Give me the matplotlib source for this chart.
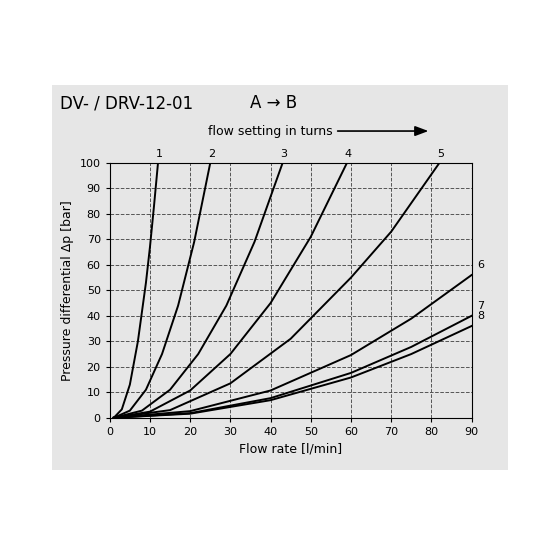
import matplotlib
matplotlib.use("Agg")
import matplotlib.pyplot as plt
from matplotlib.patches import Rectangle

# curve data (flow l/min, pressure bar)
curve_x = {
    "1": [1, 3, 5, 7, 9, 10, 11, 12],
    "2": [1, 5, 9, 13, 17, 21, 25],
    "3": [1, 8, 15, 22, 29, 36, 43],
    "4": [1, 10, 20, 30, 40, 50, 59],
    "5": [1, 15, 30, 45, 60, 70, 82],
    "6": [1, 20, 40, 60, 75, 90],
    "7": [1, 20, 40, 60, 75, 90],
    "8": [1, 20, 40, 60, 75, 90],
}
curve_y = {
    "1": [0, 3.3, 13, 30, 53, 67, 83, 100],
    "2": [0, 2.8, 11, 25, 44, 69, 100],
    "3": [0, 2.8, 11, 25, 44, 69, 100],
    "4": [0, 2.4, 10.7, 25, 45, 71, 100],
    "5": [0, 3, 13.5, 31, 55, 73, 100],
    "6": [0, 2.6, 10.7, 24.6, 38.9, 56],
    "7": [0, 1.8, 7.7, 17.6, 27.8, 40],
    "8": [0, 1.6, 6.9, 15.8, 25, 36],
}
xticks = list(range(0, 91, 10))
yticks = list(range(0, 101, 10))

fig = plt.figure(figsize=(5.6, 5.6), dpi=100)
fig.patches.append(Rectangle((0.093, 0.161), 0.814, 0.6875, transform=fig.transFigure,
                             facecolor="#e6e6e6", edgecolor="none", zorder=-1))
ax = fig.add_axes([0.196, 0.254, 0.646, 0.455])
ax.set_facecolor("#e6e6e6")

for k in curve_x:
    ax.plot(curve_x[k], curve_y[k], color="black", lw=1.4)
    if curve_y[k][-1] >= 99:
        ax.text(curve_x[k][-1] + 0.3, 101.5, k, fontsize=8, ha="center", va="bottom")
    else:
        ax.text(91.5, curve_y[k][-1] + 2, k, fontsize=8, ha="left", va="bottom")

ax.set_xlim(0, 90)
ax.set_ylim(0, 100)
ax.set_xticks(xticks)
ax.set_yticks(yticks)
ax.tick_params(labelsize=8, length=3)
ax.grid(True, ls="--", color="#555555", lw=0.7)
ax.set_xlabel("Flow rate [l/min]", fontsize=9)
ax.set_ylabel("Pressure differential Δp [bar]", fontsize=9)

fig.text(0.107, 0.816, "DV- / DRV-12-01", fontsize=12, va="center")
fig.text(0.446, 0.816, "A → B", fontsize=12, va="center")
fig.text(0.482, 0.766, "flow setting in turns", fontsize=9, ha="center", va="center")
fig.patches.append(matplotlib.patches.FancyArrowPatch(
    (0.598, 0.766), (0.77, 0.766), transform=fig.transFigure,
    arrowstyle="-|>,head_length=8,head_width=3", color="black", lw=1.2))

fig.savefig("out.png", dpi=100)
